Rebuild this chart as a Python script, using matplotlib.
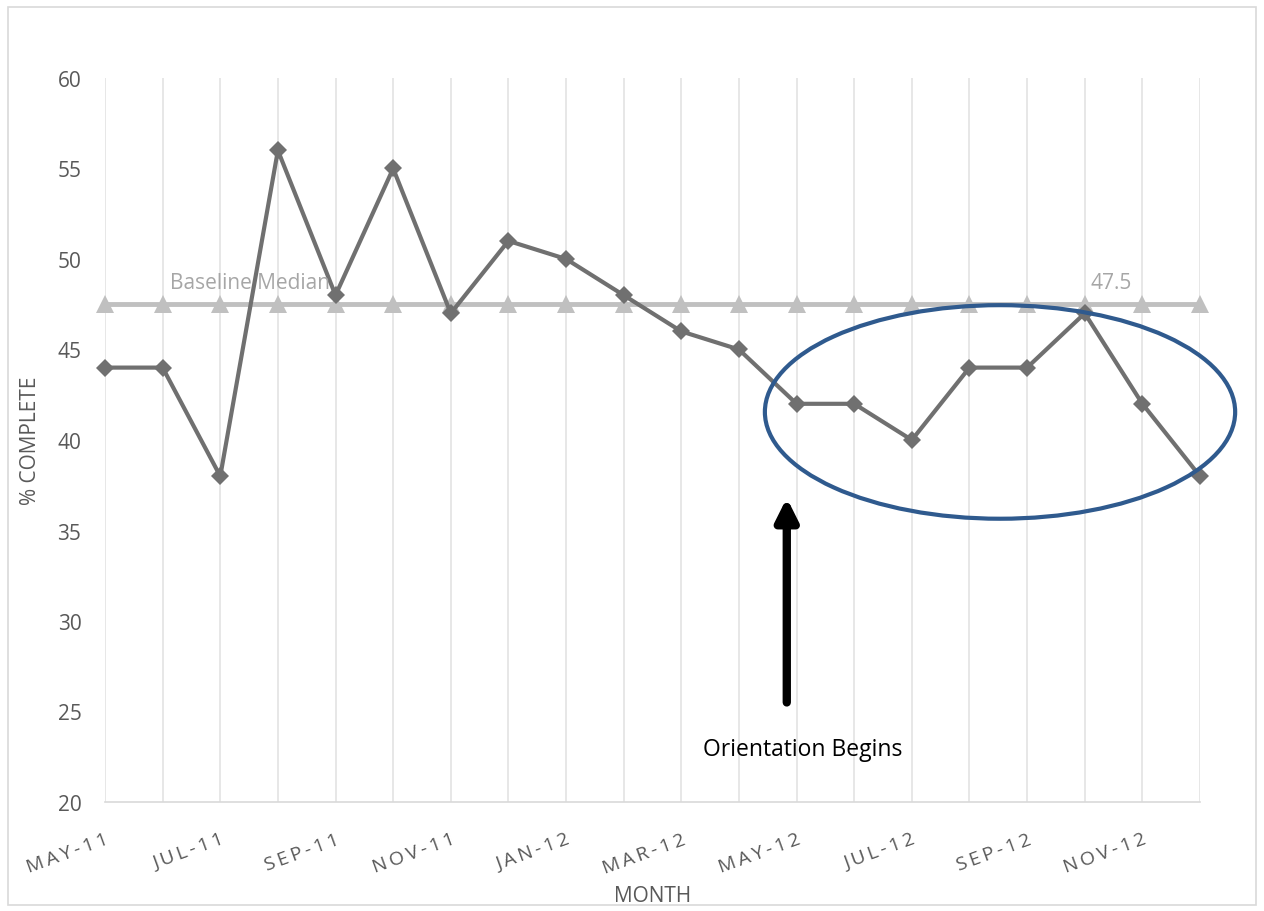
import matplotlib.pyplot as plt
from matplotlib.patches import Ellipse, Rectangle

plt.rcParams['font.family'] = ['Open Sans', 'DejaVu Sans']

months = ['MAY-11', 'JUN-11', 'JUL-11', 'AUG-11', 'SEP-11', 'OCT-11', 'NOV-11', 'DEC-11',
          'JAN-12', 'FEB-12', 'MAR-12', 'APR-12', 'MAY-12', 'JUN-12', 'JUL-12', 'AUG-12',
          'SEP-12', 'OCT-12', 'NOV-12', 'DEC-12']
pct_complete = [44, 44, 38, 56, 48, 55, 47, 51, 50, 48, 46, 45, 42, 42, 40, 44, 44, 47, 42, 38]
baseline_median = 47.5

x = list(range(len(months)))

fig = plt.figure(figsize=(12.64, 9.12), dpi=100)
fig.patches.append(Rectangle((8 / 1264, 6 / 912), 1248 / 1264, 898 / 912, transform=fig.transFigure,
                             fill=False, edgecolor='#d9d9d9', linewidth=1.2))
ax = fig.add_axes([105 / 1264, 1 - 803 / 912, 1095 / 1264, 724 / 912])

for xi in x:
    ax.axvline(xi, color='#e3e3e3', linewidth=1.2, zorder=0)

ax.plot(x, [baseline_median] * len(x), color='#c0c0c0', linewidth=3.5, marker='^',
        markersize=13, markeredgewidth=0, zorder=2, clip_on=False)
ax.plot(x, pct_complete, color='#707070', linewidth=3, marker='D', markersize=9.5,
        markeredgewidth=0, zorder=3, clip_on=False)

ax.text(2.52, 48.1, 'Baseline Median', color='#a6a6a6', fontsize=15, ha='center', va='bottom', zorder=4)
ax.text(17.46, 48.1, '47.5', color='#a6a6a6', fontsize=15, ha='center', va='bottom', zorder=4)

ax.add_patch(Ellipse((15.53, 41.55), 8.16, 11.8, fill=False, edgecolor='#2f5a8e', linewidth=3,
                     zorder=5, clip_on=False))
ax.annotate('', xy=(11.83, 36.8), xytext=(11.83, 25.5),
            arrowprops=dict(arrowstyle='-|>,head_length=1.3,head_width=0.65', color='black', lw=6,
                            shrinkA=0, shrinkB=0), zorder=5)
ax.text(12.1, 22.95, 'Orientation Begins', fontsize=16.5, ha='center', va='center', color='black')

ax.set_xlim(0, 19)
ax.set_ylim(20, 60)
ax.set_yticks(range(20, 61, 5))
ax.set_xticks(x[::2])
ax.set_xticklabels(['\u2009'.join(m) for m in months[::2]], rotation=20, ha='right',
                   rotation_mode='anchor', fontsize=14)
ax.tick_params(axis='both', length=0, colors='#595959')
ax.tick_params(axis='y', labelsize=15, pad=17)
ax.tick_params(axis='x', pad=20)
for s in ['top', 'right', 'left']:
    ax.spines[s].set_visible(False)
ax.spines['bottom'].set_color('#d9d9d9')
ax.spines['bottom'].set_linewidth(1.2)

ax.set_xlabel('MONTH', color='#595959', fontsize=15, labelpad=6)
ax.set_ylabel('% COMPLETE', color='#595959', fontsize=15, labelpad=12)

fig.savefig('out.png', dpi=100)
